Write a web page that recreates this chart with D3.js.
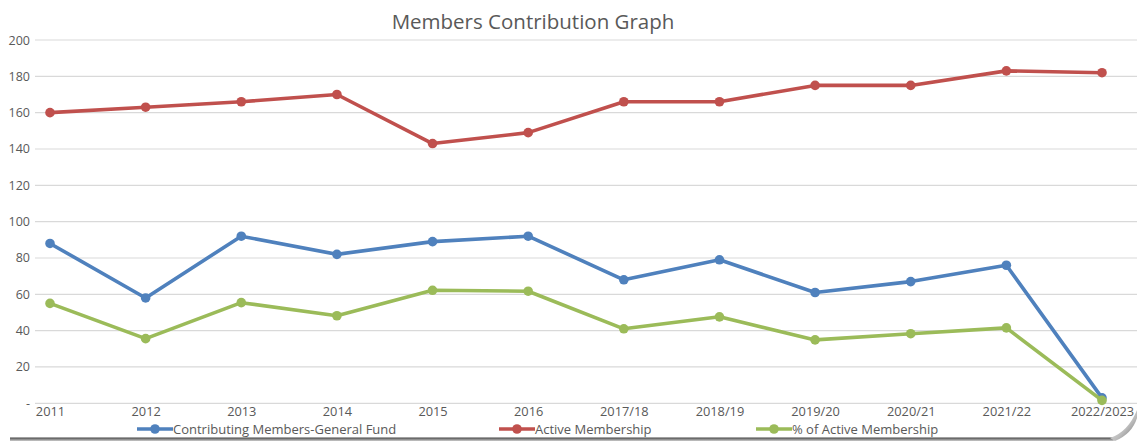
<!DOCTYPE html>
<html><head><meta charset="utf-8">
<script src="https://cdn.jsdelivr.net/npm/d3@7/dist/d3.min.js"></script>
<style>html,body{margin:0;padding:0;background:#fff;}svg{display:block;}</style>
</head><body>
<script>
const categories = ["2011","2012","2013","2014","2015","2016","2017/18","2018/19","2019/20","2020/21","2021/22","2022/2023"];
const contributing = [88,58,92,82,89,92,68,79,61,67,76,3];
const active = [160,163,166,170,143,149,166,166,175,175,183,182];
const pctActive = [55.0,35.6,55.4,48.2,62.2,61.7,41.0,47.6,34.9,38.3,41.5,1.6];
const seriesNames = ["Contributing Members-General Fund","Active Membership","% of Active Membership"];
const yTicks = [0,20,40,60,80,100,120,140,160,180,200];
const title = "Members Contribution Graph";

const W = 1137, H = 441;
const colors = ["#4F81BD","#C0504D","#9BBB59"];
const font = "'Open Sans', 'Liberation Sans', sans-serif";
const svg = d3.select("body").append("svg").attr("width", W).attr("height", H);

const x = d3.scalePoint().domain(categories).range([50, 1102]);
const y = d3.scaleLinear().domain([0, 200]).range([403.3, 40]);

// gridlines
svg.append("g").selectAll("line").data(yTicks).join("line")
  .attr("x1", 35).attr("x2", W).attr("y1", d => y(d)).attr("y2", d => y(d))
  .attr("stroke", "#D9D9D9").attr("stroke-width", 1.2);

// y axis
const yAxis = svg.append("g").attr("transform", "translate(30,0)")
  .call(d3.axisLeft(y).tickValues(yTicks).tickSize(0).tickPadding(0).tickFormat(d => d === 0 ? "-" : d));
yAxis.select(".domain").remove();
yAxis.selectAll("text").attr("font-family", font).attr("font-size", 12.5).attr("fill", "#595959")
  .attr("dy", "0.32em");

// x axis
const xAxis = svg.append("g").attr("transform", "translate(0,403)")
  .call(d3.axisBottom(x).tickSize(0).tickPadding(4));
xAxis.select(".domain").remove();
xAxis.selectAll("text").attr("font-family", font).attr("font-size", 12.8).attr("fill", "#595959");

// title
svg.append("text").attr("x", 533).attr("y", 28.5).attr("text-anchor", "middle")
  .attr("font-family", font).attr("font-size", 20.5).attr("fill", "#595959").text(title);

// series
const allSeries = [contributing, active, pctActive];
const line = d3.line().x((d, i) => x(categories[i])).y(d => y(d));
[1, 0, 2].forEach(si => {
  const g = svg.append("g");
  g.append("path").datum(allSeries[si]).attr("d", line).attr("fill", "none")
    .attr("stroke", colors[si]).attr("stroke-width", 3.6).attr("stroke-linejoin", "round");
  g.selectAll("circle").data(allSeries[si]).join("circle")
    .attr("cx", (d, i) => x(categories[i])).attr("cy", d => y(d)).attr("r", 4.8)
    .attr("fill", colors[si]);
});

// legend
const legendX = [137, 499, 756];
const legend = svg.append("g");
seriesNames.forEach((name, i) => {
  const lg = legend.append("g").attr("transform", `translate(${legendX[i]},429)`);
  lg.append("line").attr("x1", 0).attr("x2", 36).attr("stroke", colors[i]).attr("stroke-width", 3.6);
  lg.append("circle").attr("cx", 18).attr("r", 4.8).attr("fill", colors[i]);
  lg.append("text").attr("x", 36).attr("dy", "0.35em").attr("font-family", font)
    .attr("font-size", 13).attr("fill", "#595959").text(name);
});

// bottom shadow
const defs = svg.append("defs");
const sg = defs.append("linearGradient").attr("id", "sh").attr("x1", 0).attr("x2", 0).attr("y1", 0).attr("y2", 1);
sg.append("stop").attr("offset", 0).attr("stop-color", "#444");
sg.append("stop").attr("offset", 1).attr("stop-color", "#ccc");
svg.append("rect").attr("x", 10).attr("y", 437.5).attr("width", 1105).attr("height", 3.5).attr("fill", "url(#sh)");
// page curl
const cg = defs.append("linearGradient").attr("id", "curl").attr("x1", 0).attr("x2", 1).attr("y1", 0).attr("y2", 1);
cg.append("stop").attr("offset", 0).attr("stop-color", "#f4f4f4");
cg.append("stop").attr("offset", 0.6).attr("stop-color", "#bbb");
cg.append("stop").attr("offset", 1).attr("stop-color", "#666");
svg.append("path").attr("d", "M1113,441 L1137,441 L1137,412 Q1130,432 1113,441 Z").attr("fill", "#fff");
svg.append("path").attr("d", "M1110,438 Q1128,432 1137,410 L1137,418 Q1132,434 1115,441 Z").attr("fill", "url(#curl)");
</script>
</body></html>
